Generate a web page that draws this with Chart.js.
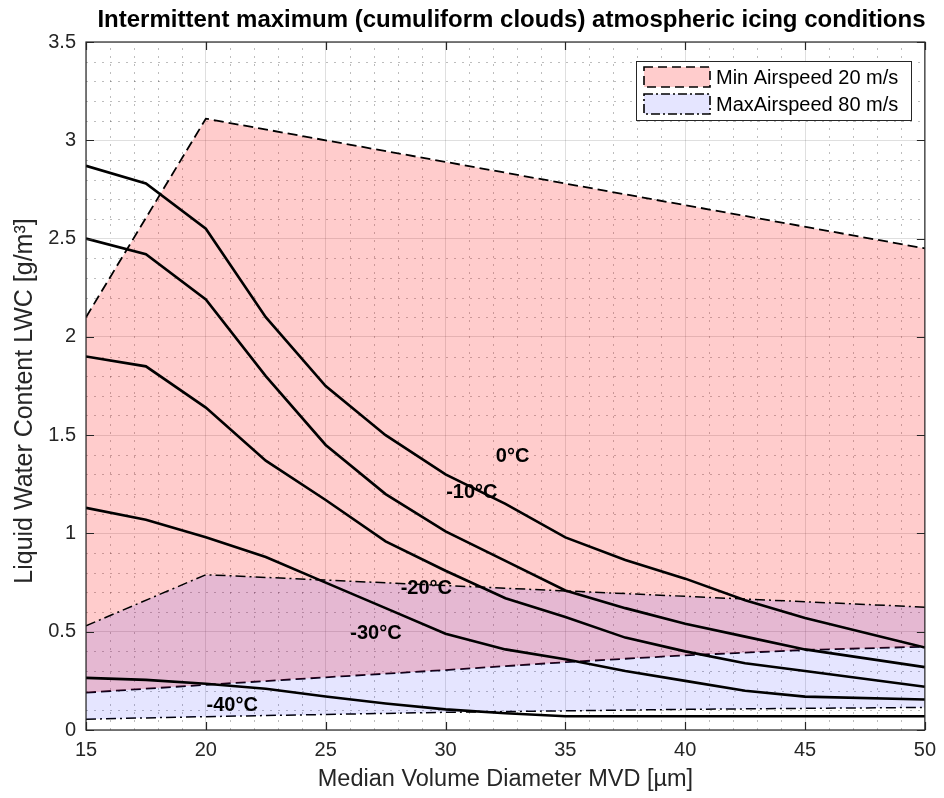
<!DOCTYPE html>
<html>
<head>
<meta charset="utf-8">
<script src="https://cdn.jsdelivr.net/npm/chart.js@4.4.1/dist/chart.umd.min.js"></script>
<style>
html,body{margin:0;padding:0;background:#fff;}
#wrap{width:944px;height:798px;position:relative;}
</style>
</head>
<body>
<div id="wrap"><canvas id="c" width="944" height="798"></canvas></div>
<script>
// ---- data ----
const titleText = 'Intermittent maximum (cumuliform clouds) atmospheric icing conditions';
const xTitle = 'Median Volume Diameter MVD [µm]';
const yTitle = 'Liquid Water Content LWC [g/m³]';
const xTicks = [15, 20, 25, 30, 35, 40, 45, 50];
const yTicks = [0, 0.5, 1, 1.5, 2, 2.5, 3, 3.5];

const mvd = [15, 17.5, 20, 22.5, 25, 27.5, 30, 32.5, 35, 37.5, 40, 42.5, 45, 50];
const lwc0   = [2.87, 2.78, 2.55, 2.10, 1.75, 1.50, 1.30, 1.15, 0.98, 0.865, 0.77, 0.66, 0.57, 0.42];
const lwc10  = [2.50, 2.42, 2.19, 1.80, 1.45, 1.20, 1.01, 0.86, 0.71, 0.62, 0.54, 0.475, 0.41, 0.32];
const lwc20  = [1.90, 1.85, 1.64, 1.37, 1.17, 0.96, 0.81, 0.67, 0.575, 0.47, 0.40, 0.34, 0.30, 0.22];
const lwc30  = [1.13, 1.07, 0.98, 0.88, 0.75, 0.62, 0.49, 0.41, 0.36, 0.30, 0.25, 0.20, 0.17, 0.155];
const lwc40  = [0.265, 0.255, 0.235, 0.21, 0.17, 0.135, 0.105, 0.085, 0.07, 0.07, 0.07, 0.07, 0.07, 0.07];
const curveNames = ['0°C', '-10°C', '-20°C', '-30°C', '-40°C'];

const minTopX = [15, 20, 50];
const minTopY = [2.10, 3.11, 2.45];
const minBotX = [15, 20, 25, 30, 35, 40, 45, 50];
const minBotY = [0.19, 0.23, 0.268, 0.305, 0.345, 0.38, 0.407, 0.424];
const maxTopX = [15, 20, 50];
const maxTopY = [0.53, 0.79, 0.625];
const maxBotX = [15, 20, 30, 40, 50];
const maxBotY = [0.055, 0.068, 0.09, 0.105, 0.115];
const legendNames = ['Min Airspeed 20 m/s', 'MaxAirspeed 80 m/s'];

// label anchors (data units)
const labelX = [32.8, 31.1, 29.2, 27.1, 21.1];
const labelY = [1.39, 1.21, 0.72, 0.49, 0.125];
// ---------------------------------------

const FONT = "'Liberation Sans', Arial, Helvetica, sans-serif";
const AXC = '#262626';
const pts = (xs, ys) => xs.map((x, i) => ({x: x, y: ys[i]}));
const DASH = [10, 5];
const DASHDOT = [10, 4, 2, 4];

const curveSets = [lwc0, lwc10, lwc20, lwc30, lwc40].map((arr, i) => ({
  label: curveNames[i], data: pts(mvd, arr), borderColor: '#000', borderWidth: 2.6,
  pointRadius: 0, fill: false, tension: 0, order: 1
}));

const datasets = [
  {label: legendNames[0], data: pts(minTopX, minTopY), borderColor: '#000', borderWidth: 1.8, borderDash: DASH,
   backgroundColor: 'rgba(255,0,0,0.2)', fill: '+1', pointRadius: 0, tension: 0, order: 5},
  {label: 'minbot', data: pts(minBotX, minBotY), borderColor: '#000', borderWidth: 1.8, borderDash: DASH,
   fill: false, pointRadius: 0, tension: 0, order: 5},
  {label: legendNames[1], data: pts(maxTopX, maxTopY), borderColor: '#000', borderWidth: 1.5, borderDash: DASHDOT,
   backgroundColor: 'rgba(0,0,255,0.1)', fill: '+1', pointRadius: 0, tension: 0, order: 4},
  {label: 'maxbot', data: pts(maxBotX, maxBotY), borderColor: '#000', borderWidth: 1.5, borderDash: DASHDOT,
   fill: false, pointRadius: 0, tension: 0, order: 4},
  ...curveSets
];

const decor = {
  id: 'decor',
  beforeDatasetsDraw(chart) {
    const {ctx, chartArea: a, scales: {x, y}} = chart;
    ctx.save();
    ctx.beginPath(); ctx.rect(a.left, a.top, a.right - a.left, a.bottom - a.top); ctx.clip();
    ctx.strokeStyle = 'rgba(38,38,38,0.3)';
    ctx.lineWidth = 1;
    ctx.setLineDash([2, 6]);
    for (let v = 15; v <= 50; v += 1) {
      if (v % 5 === 0) continue;
      const px = Math.round(x.getPixelForValue(v)) + 0.5;
      ctx.beginPath(); ctx.moveTo(px, a.bottom); ctx.lineTo(px, a.top); ctx.stroke();
    }
    for (let k = 0; k <= 35; k++) {
      if (k % 5 === 0) continue;
      const py = Math.round(y.getPixelForValue(k / 10)) + 0.5;
      ctx.beginPath(); ctx.moveTo(a.left, py); ctx.lineTo(a.right, py); ctx.stroke();
    }
    ctx.restore();
  },
  afterDatasetsDraw(chart) {
    const {ctx, chartArea: a, scales: {x, y}} = chart;
    ctx.save();
    // curve labels
    ctx.fillStyle = '#000';
    ctx.font = 'bold 20px ' + FONT;
    ctx.textAlign = 'center'; ctx.textBaseline = 'middle';
    curveNames.forEach((n, i) => ctx.fillText(n, x.getPixelForValue(labelX[i]), y.getPixelForValue(labelY[i])));
    // frame
    ctx.strokeStyle = AXC; ctx.lineWidth = 1.2; ctx.setLineDash([]);
    ctx.strokeRect(a.left, a.top, a.right - a.left, a.bottom - a.top);
    // inward ticks
    const tl = 8;
    ctx.beginPath();
    xTicks.forEach(v => {
      const px = Math.round(x.getPixelForValue(v)) + 0.5;
      ctx.moveTo(px, a.bottom); ctx.lineTo(px, a.bottom - tl);
      ctx.moveTo(px, a.top); ctx.lineTo(px, a.top + tl);
    });
    yTicks.forEach(v => {
      const py = Math.round(y.getPixelForValue(v)) + 0.5;
      ctx.moveTo(a.left, py); ctx.lineTo(a.left + tl, py);
      ctx.moveTo(a.right, py); ctx.lineTo(a.right - tl, py);
    });
    ctx.stroke();
    // title
    ctx.fillStyle = '#000';
    ctx.font = 'bold 24px ' + FONT;
    ctx.textAlign = 'center'; ctx.textBaseline = 'alphabetic';
    ctx.fillText(titleText, (a.left + a.right) / 2 + 6, 27);
    // y axis title
    ctx.save();
    ctx.translate(25, (a.top + a.bottom) / 2 + 15);
    ctx.rotate(-Math.PI / 2);
    ctx.fillStyle = AXC;
    ctx.font = '25px ' + FONT;
    ctx.textAlign = 'center'; ctx.textBaseline = 'middle';
    ctx.fillText(yTitle, 0, 0);
    ctx.restore();
    // legend
    const lx = 636, ly = 61, lw = 275, lh = 59;
    ctx.fillStyle = '#fff';
    ctx.fillRect(lx, ly, lw, lh);
    ctx.strokeStyle = AXC; ctx.lineWidth = 1;
    ctx.strokeRect(lx + 0.5, ly + 0.5, lw, lh);
    const sw = [{fill: 'rgba(255,0,0,0.2)', dash: [9, 5]}, {fill: 'rgba(0,0,255,0.1)', dash: [9, 3, 2, 3]}];
    sw.forEach((s, i) => {
      const sy = ly + 6 + i * 27;
      ctx.fillStyle = s.fill;
      ctx.fillRect(644, sy, 66, 20);
      ctx.strokeStyle = '#000'; ctx.lineWidth = 1.6; ctx.setLineDash(s.dash);
      ctx.strokeRect(644, sy, 66, 20);
      ctx.setLineDash([]);
      ctx.fillStyle = '#000';
      ctx.font = '20px ' + FONT;
      ctx.textAlign = 'left'; ctx.textBaseline = 'middle';
      ctx.fillText(legendNames[i], 716, sy + 11);
    });
    ctx.restore();
  }
};

new Chart(document.getElementById('c'), {
  type: 'line',
  data: {datasets: datasets},
  plugins: [decor],
  options: {
    responsive: false,
    animation: false,
    parsing: true,
    layout: {padding: {left: 0, right: 14, top: 42, bottom: 0}},
    plugins: {legend: {display: false}, tooltip: {enabled: false}, title: {display: false}},
    scales: {
      x: {
        type: 'linear', min: 15, max: 50,
        afterBuildTicks: s => { s.ticks = xTicks.map(v => ({value: v})); },
        afterFit: s => { s.height = 68; },
        grid: {color: 'rgba(38,38,38,0.15)', drawTicks: false, lineWidth: 1},
        border: {display: false},
        ticks: {color: AXC, font: {size: 20, family: FONT}, padding: 8, maxRotation: 0, callback: v => String(v)},
        title: {display: true, text: xTitle, color: AXC, font: {size: 23.5, family: FONT}, padding: {top: 0, bottom: 4}}
      },
      y: {
        type: 'linear', min: 0, max: 3.5,
        afterBuildTicks: s => { s.ticks = yTicks.map(v => ({value: v})); },
        afterFit: s => { s.width = 86; },
        grid: {color: 'rgba(38,38,38,0.15)', drawTicks: false, lineWidth: 1},
        border: {display: false},
        ticks: {color: AXC, font: {size: 20, family: FONT}, padding: 10, callback: v => String(v)},
        title: {display: false}
      }
    }
  }
});
</script>
</body>
</html>
